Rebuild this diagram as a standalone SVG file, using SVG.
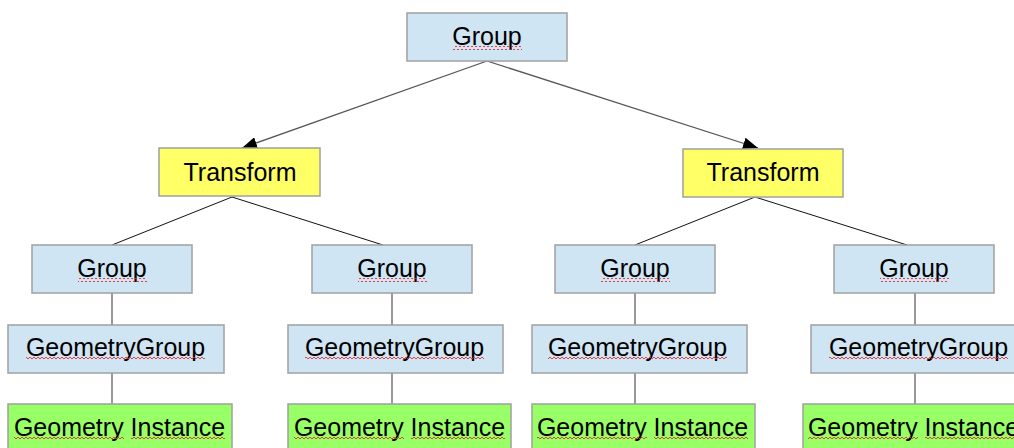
<svg xmlns="http://www.w3.org/2000/svg" width="1014" height="448" viewBox="0 0 1014 448">
<style>
.box{stroke:#a0a0a0;stroke-width:1.5}
.blue{fill:#cfe5f3}
.yellow{fill:#ffff66}
.green{fill:#99ff66}
text{font-family:"Liberation Sans",Arial,sans-serif;font-size:25px;fill:#000;text-anchor:middle}
.sq{fill:url(#squig)}
.arr{stroke:#555;stroke-width:1.3;fill:none}
.diag{stroke:#111;stroke-width:1;fill:none}
.vert{stroke:#777;stroke-width:1.5;fill:none}
</style>
<defs>
<pattern id="squig" patternUnits="userSpaceOnUse" width="4" height="4">
<path d="M0,3 L2,1 L4,3" stroke="#e03030" stroke-width="0.9" fill="none"/>
</pattern>
<marker id="ah" markerUnits="userSpaceOnUse" markerWidth="16" markerHeight="12" refX="15" refY="6" orient="auto">
<path d="M0,0 L15,6 L0,12 z" fill="#000"/>
</marker>
</defs>
<rect width="1014" height="448" fill="#fff"/>
<g id="connectors">
<path class="arr" d="M487,61 L242,148" marker-end="url(#ah)"/>
<path class="arr" d="M487,61 L758,148" marker-end="url(#ah)"/>
<path class="diag" d="M232,197 L112,245 M232,197 L383,245"/>
<path class="diag" d="M755,197 L635,245 M755,197 L907,245"/>
<path class="vert" d="M112,293 V325 M112,373 V404 M392,293 V325 M392,373 V404 M635,293 V325 M635,373 V404 M915,293 V325 M915,373 V404"/>
</g>
<g id="group-top">
<rect class="box blue" x="407" y="13" width="160" height="48"/>
<text x="487" y="45">Group</text>
<rect class="sq" x="453" y="46" width="69" height="4"/>
</g>
<g id="transform-left">
<rect class="box yellow" x="159" y="148" width="161" height="48"/>
<text x="240" y="181">Transform</text>
</g>
<g id="transform-right">
<rect class="box yellow" x="683" y="149" width="160" height="48"/>
<text x="763" y="181">Transform</text>
</g>
<g id="group-1">
<rect class="box blue" x="32" y="245" width="160" height="48"/>
<text x="112" y="277">Group</text>
<rect class="sq" x="78" y="278" width="69" height="4"/>
</g>
<g id="group-2">
<rect class="box blue" x="312" y="245" width="160" height="48"/>
<text x="392" y="277">Group</text>
<rect class="sq" x="358" y="278" width="69" height="4"/>
</g>
<g id="group-3">
<rect class="box blue" x="555" y="245" width="160" height="48"/>
<text x="635" y="277">Group</text>
<rect class="sq" x="601" y="278" width="69" height="4"/>
</g>
<g id="group-4">
<rect class="box blue" x="834" y="245" width="160" height="48"/>
<text x="914" y="277">Group</text>
<rect class="sq" x="880" y="278" width="69" height="4"/>
</g>
<g id="geomgroup-1">
<rect class="box blue" x="8" y="325" width="216" height="48"/>
<text x="115.5" y="356">GeometryGroup</text>
<rect class="sq" x="26" y="357" width="179" height="4"/>
</g>
<g id="geomgroup-2">
<rect class="box blue" x="288" y="325" width="215" height="48"/>
<text x="394.5" y="356">GeometryGroup</text>
<rect class="sq" x="305" y="357" width="179" height="4"/>
</g>
<g id="geomgroup-3">
<rect class="box blue" x="532" y="325" width="215" height="48"/>
<text x="637.5" y="356">GeometryGroup</text>
<rect class="sq" x="548" y="357" width="179" height="4"/>
</g>
<g id="geomgroup-4">
<rect class="box blue" x="811" y="325" width="215" height="48"/>
<text x="918.5" y="356">GeometryGroup</text>
<rect class="sq" x="829" y="357" width="179" height="4"/>
</g>
<g id="instance-1">
<rect class="box green" x="8" y="404" width="224" height="60"/>
<text x="119.5" y="436">Geometry Instance</text>
<rect class="sq" x="14" y="437" width="110" height="4"/>
<rect class="sq" x="131" y="437" width="94" height="4"/>
</g>
<g id="instance-2">
<rect class="box green" x="288" y="404" width="223" height="60"/>
<text x="399.5" y="436">Geometry Instance</text>
<rect class="sq" x="294" y="437" width="110" height="4"/>
<rect class="sq" x="411" y="437" width="94" height="4"/>
</g>
<g id="instance-3">
<rect class="box green" x="532" y="404" width="223" height="60"/>
<text x="642.5" y="436">Geometry Instance</text>
<rect class="sq" x="537" y="437" width="110" height="4"/>
<rect class="sq" x="654" y="437" width="94" height="4"/>
</g>
<g id="instance-4">
<rect class="box green" x="803" y="404" width="224" height="60"/>
<text x="913.5" y="436">Geometry Instance</text>
<rect class="sq" x="808" y="437" width="110" height="4"/>
<rect class="sq" x="925" y="437" width="94" height="4"/>
</g>
</svg>
